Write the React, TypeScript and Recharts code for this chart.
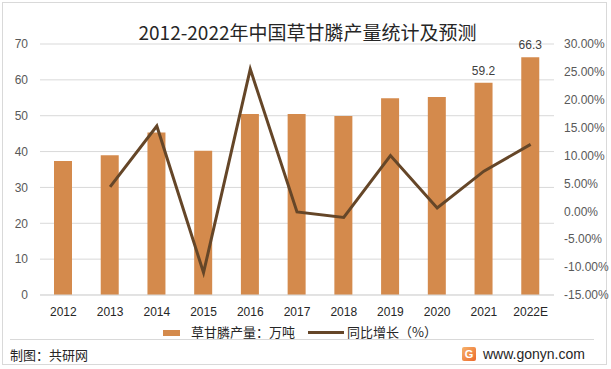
import { ComposedChart, Bar, Line, XAxis, YAxis, CartesianGrid, LabelList } from 'recharts';

const years = ['2012', '2013', '2014', '2015', '2016', '2017', '2018', '2019', '2020', '2021', '2022E'];
const output = [37.4, 39.0, 45.3, 40.2, 50.5, 50.5, 49.9, 54.9, 55.2, 59.2, 66.3];
const growth = [null, 4.4, 15.3, -11.0, 25.5, -0.1, -1.1, 10.0, 0.6, 7.2, 12.0];
const labelledYears = ['2021', '2022E'];
const leftTicks = [0, 10, 20, 30, 40, 50, 60, 70];
const rightTicks = [-15, -10, -5, 0, 5, 10, 15, 20, 25, 30];

const data = years.map((year, i) => ({ year, output: output[i], growth: growth[i] }));

const barColor = '#D48A4C';
const lineColor = '#654628';
const cjk = '"Noto Sans CJK SC", "Liberation Sans", sans-serif';
const num = '"Liberation Sans", "Noto Sans CJK SC", sans-serif';

const BarValue = (props: any) => {
	const { x, y, width, value, index } = props;
	if (!labelledYears.includes(years[index])) return null;
	return (
		<text x={x + width / 2} y={y - 8} textAnchor='middle' fontSize={12} fill='#404040' fontFamily={num}>
			{value}
		</text>
	);
};

export default function App() {
	return (
		<div style={{ position: 'absolute', left: 0, top: 0, width: 611, height: 369, background: '#fff', fontFamily: cjk }}>
			<div style={{ position: 'absolute', left: 2, top: 2, width: 603, height: 361, border: '1px solid #d9d9d9' }} />
			<div style={{ position: 'absolute', left: 0, top: 18, width: 611, textAlign: 'center', fontSize: 19, color: '#262626', paddingLeft: 2 }}>
				2012-2022年中国草甘膦产量统计及预测
			</div>
			<div style={{ position: 'absolute', left: 0, top: 0 }}>
				<ComposedChart width={611} height={369} data={data} margin={{ top: 44, right: 0, left: 0, bottom: 44 }}>
					<CartesianGrid yAxisId='left' vertical={false} stroke='#d9d9d9' />
					<XAxis
						dataKey='year'
						height={30}
						tickLine={false}
						axisLine={{ stroke: '#d9d9d9' }}
						tickMargin={6}
						tick={{ fontSize: 12, fill: '#262626', fontFamily: num }}
					/>
					<YAxis
						yAxisId='left'
						width={40}
						domain={[0, 70]}
						ticks={leftTicks}
						tickLine={false}
						axisLine={false}
						tickMargin={6}
						tick={{ fontSize: 12, fill: '#595959', fontFamily: num }}
					/>
					<YAxis
						yAxisId='right'
						orientation='right'
						width={57}
						domain={[-15, 30]}
						ticks={rightTicks}
						tickLine={false}
						axisLine={false}
						tickMargin={4}
						tickFormatter={(v: number) => v.toFixed(2) + '%'}
						tick={{ fontSize: 12, fill: '#595959', fontFamily: num }}
					/>
					<Bar yAxisId='left' dataKey='output' fill={barColor} barSize={18} isAnimationActive={false}>
						<LabelList dataKey='output' content={BarValue} />
					</Bar>
					<Line
						yAxisId='right'
						dataKey='growth'
						stroke={lineColor}
						strokeWidth={3}
						dot={false}
						activeDot={false}
						type='linear'
						isAnimationActive={false}
					/>
				</ComposedChart>
			</div>
			<div style={{ position: 'absolute', left: 163, top: 330, width: 17, height: 6, background: barColor }} />
			<div style={{ position: 'absolute', left: 191, top: 323, fontSize: 13, color: '#262626', lineHeight: '18px' }}>
				草甘膦产量：万吨
			</div>
			<div style={{ position: 'absolute', left: 308, top: 331, width: 36, height: 3, background: lineColor }} />
			<div style={{ position: 'absolute', left: 347, top: 323, fontSize: 13, color: '#262626', lineHeight: '18px' }}>
				同比增长（%）
			</div>
			<div style={{ position: 'absolute', left: 10, top: 339, width: 584, height: 1, background: '#d9d9d9' }} />
			<div style={{ position: 'absolute', left: 10, top: 346, fontSize: 13, color: '#262626', lineHeight: '18px' }}>
				制图：共研网
			</div>
			<div
				style={{
					position: 'absolute',
					left: 462,
					top: 347,
					width: 14,
					height: 14,
					borderRadius: 2,
					background: 'linear-gradient(135deg, #f6b26b, #ec6a2c)',
					color: '#fff',
					fontSize: 11,
					fontWeight: 700,
					lineHeight: '14px',
					textAlign: 'center',
					fontFamily: num,
				}}>
				G
			</div>
			<div style={{ position: 'absolute', left: 483, top: 345, fontSize: 14, color: '#262626', lineHeight: '18px', fontFamily: num }}>
				www.gonyn.com
			</div>
		</div>
	);
}
